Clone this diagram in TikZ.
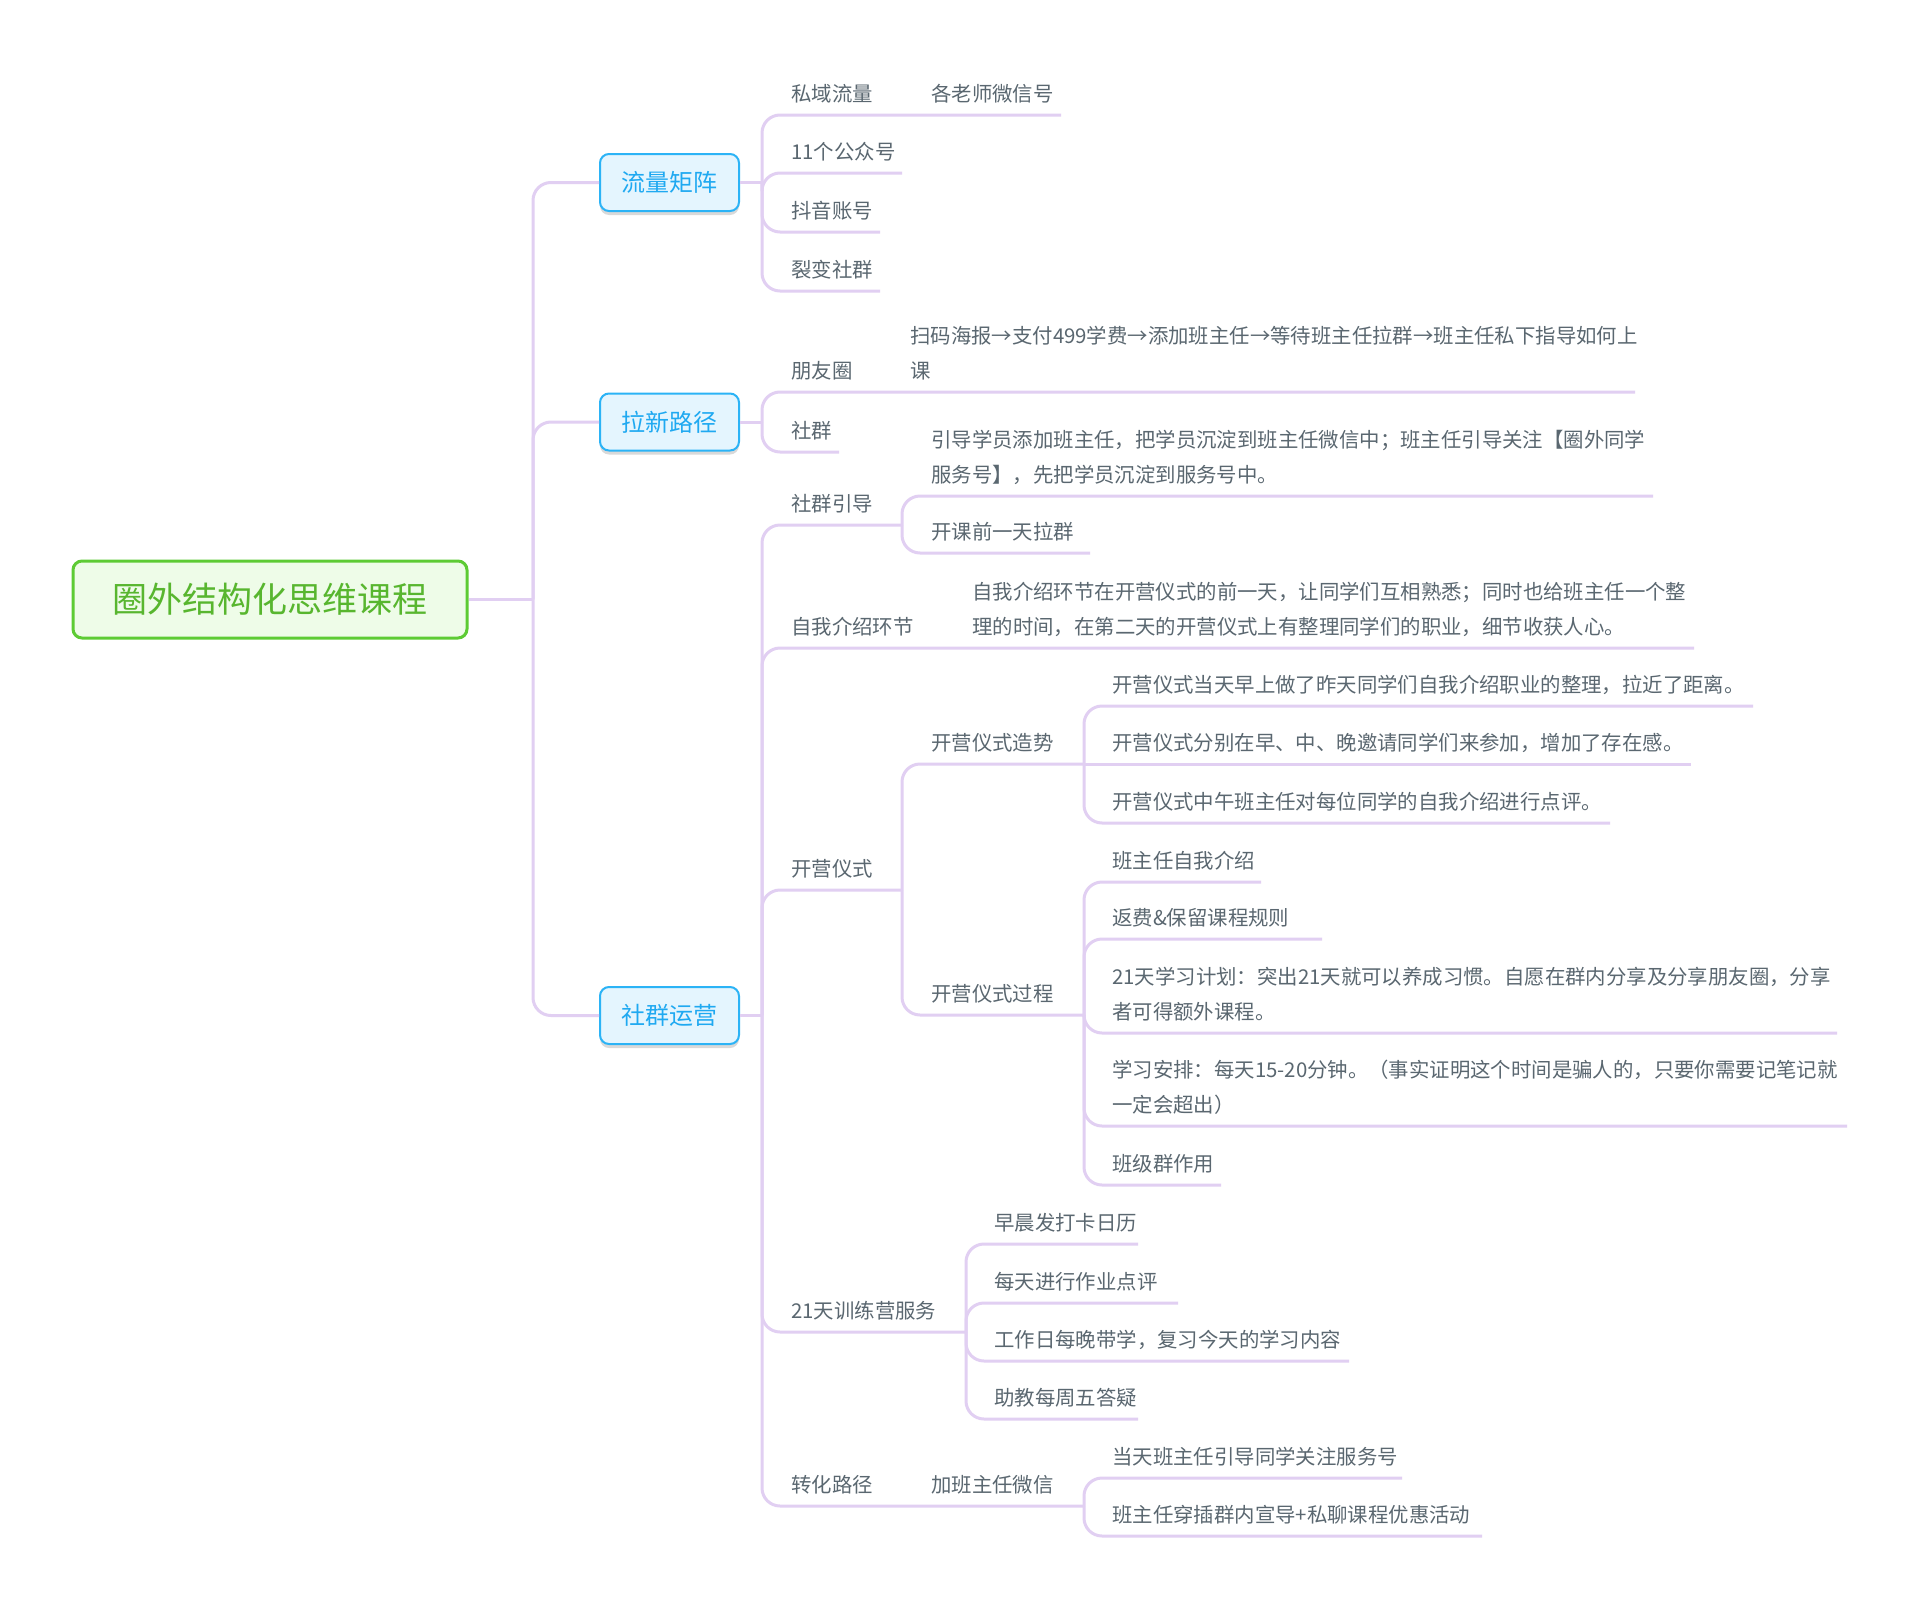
\documentclass[tikz,border=0pt]{standalone}
\usepackage{fontspec}
\setmainfont{Noto Sans CJK SC}
\usetikzlibrary{shadows}
\definecolor{linec}{HTML}{E1CFF2}
\definecolor{txtgrey}{HTML}{5A6770}
\definecolor{bluetxt}{HTML}{1FA9F1}
\definecolor{bluefill}{HTML}{E4F5FE}
\definecolor{blueline}{HTML}{2BB3F6}
\definecolor{greentxt}{HTML}{58B62F}
\definecolor{greenfill}{HTML}{EEFCE8}
\definecolor{greenline}{HTML}{5DCB34}
\newcommand{\twol}[2]{\vbox{\baselineskip=35pt\lineskiplimit=-100pt\hbox{#1}\hbox{#2}}}
\begin{document}
\begin{tikzpicture}[x=1pt,y=-1pt,
  txt/.style={anchor=base west, inner sep=0pt, yshift=1pt, text=txtgrey, font=\fontsize{20.4}{35}\selectfont},
  branch/.style={draw=linec, line width=3pt, rounded corners=18pt},
  rootbox/.style={draw=greenline, fill=greenfill, text=greentxt, line width=3pt, rounded corners=9pt,
    minimum width=394pt, minimum height=77pt, inner sep=0pt, font=\fontsize{35}{40}\selectfont},
  topicbox/.style={draw=blueline, fill=bluefill, text=bluetxt, line width=2pt, rounded corners=9pt,
    minimum width=139pt, minimum height=57pt, inner sep=0pt, font=\fontsize{24}{28}\selectfont,
    drop shadow={shadow xshift=0pt, shadow yshift=-4pt, opacity=0.15, fill=black}}
]
\useasboundingbox[fill=white] (0,0) rectangle (1920,1611);

% root and main topics
\node[rootbox] (root) at (270,599.5) {圈外结构化思维课程};
\node[topicbox] (llj) at (669.5,182.5) {流量矩阵};
\node[topicbox] (lxlj) at (669.5,422) {拉新路径};
\node[topicbox] (sqyy) at (669.5,1015.5) {社群运营};

\coordinate (trunk) at (533,599.5);
\draw[branch] (root.east) -- (trunk);
\draw[branch] (trunk) |- (llj.west);
\draw[branch] (trunk) |- (lxlj.west);
\draw[branch] (trunk) |- (sqyy.west);

% ---------- 流量矩阵
\coordinate (b1) at (762,182.5);
\draw[branch] (llj.east) -- (b1);
\node[txt] (syll) at (791,102) {私域流量};
\node[txt] (glsw) at (931,102) {各老师微信号};
\coordinate (glsw-e) at (1061,115);
\draw[branch] (b1) |- (glsw-e);
\node[txt] (gzh) at (791,160) {11个公众号};
\coordinate (gzh-e) at (902,173);
\draw[branch] (b1) |- (gzh-e);
\node[txt] (dy) at (791,219) {抖音账号};
\coordinate (dy-e) at (880,232);
\draw[branch] (b1) |- (dy-e);
\node[txt] (lb) at (791,278) {裂变社群};
\coordinate (lb-e) at (880,291);
\draw[branch] (b1) |- (lb-e);

% ---------- 拉新路径
\coordinate (b2) at (762,422);
\draw[branch] (lxlj.east) -- (b2);
\node[txt] (pyq) at (791,379) {朋友圈};
\node[txt] (smhb) at (910,379) {\twol{扫码海报→支付499学费→添加班主任→等待班主任拉群→班主任私下指导如何上}{课}};
\coordinate (smhb-e) at (1635,392);
\draw[branch] (b2) |- (smhb-e);
\node[txt] (sq) at (791,439) {社群};
\coordinate (sq-e) at (839,452);
\draw[branch] (b2) |- (sq-e);

% ---------- 社群运营
\coordinate (b3) at (762,1015.5);
\draw[branch] (sqyy.east) -- (b3);

% 社群引导
\node[txt] (sqyd) at (791,512) {社群引导};
\coordinate (sqyd-e) at (902,525);
\draw[branch] (b3) |- (sqyd-e);
\node[txt] (ydxy) at (931,483) {\twol{引导学员添加班主任，把学员沉淀到班主任微信中；班主任引导关注【圈外同学}{服务号】，先把学员沉淀到服务号中。}};
\coordinate (ydxy-e) at (1653,496);
\draw[branch] (sqyd-e) |- (ydxy-e);
\node[txt] (kkq) at (931,540) {开课前一天拉群};
\coordinate (kkq-e) at (1090,553);
\draw[branch] (sqyd-e) |- (kkq-e);

% 自我介绍环节
\node[txt] (zwjs) at (791,635) {自我介绍环节};
\node[txt] (zwjsc) at (972,635) {\twol{自我介绍环节在开营仪式的前一天，让同学们互相熟悉；同时也给班主任一个整}{理的时间，在第二天的开营仪式上有整理同学们的职业，细节收获人心。}};
\coordinate (zwjsc-e) at (1694,648);
\draw[branch] (b3) |- (zwjsc-e);

% 开营仪式
\node[txt] (kyys) at (791,877) {开营仪式};
\coordinate (kyys-e) at (902,890);
\draw[branch] (b3) |- (kyys-e);

\node[txt] (kyzs) at (931,751) {开营仪式造势};
\coordinate (kyzs-e) at (1084,764);
\draw[branch] (kyys-e) |- (kyzs-e);
\node[txt] (zs1) at (1112,693) {开营仪式当天早上做了昨天同学们自我介绍职业的整理，拉近了距离。};
\coordinate (zs1-e) at (1753,706);
\draw[branch] (kyzs-e) |- (zs1-e);
\node[txt] (zs2) at (1112,751) {开营仪式分别在早、中、晚邀请同学们来参加，增加了存在感。};
\coordinate (zs2-e) at (1691,764);
\draw[branch] (kyzs-e) -- (zs2-e);
\node[txt] (zs3) at (1112,810) {开营仪式中午班主任对每位同学的自我介绍进行点评。};
\coordinate (zs3-e) at (1610,823);
\draw[branch] (kyzs-e) |- (zs3-e);

\node[txt] (kygc) at (931,1002) {开营仪式过程};
\coordinate (kygc-e) at (1084,1015);
\draw[branch] (kyys-e) |- (kygc-e);
\node[txt] (gc1) at (1112,869) {班主任自我介绍};
\coordinate (gc1-e) at (1261,882);
\draw[branch] (kygc-e) |- (gc1-e);
\node[txt] (gc2) at (1112,926) {返费\&保留课程规则};
\coordinate (gc2-e) at (1322,939);
\draw[branch] (kygc-e) |- (gc2-e);
\node[txt] (gc3) at (1112,1020) {\twol{21天学习计划：突出21天就可以养成习惯。自愿在群内分享及分享朋友圈，分享}{者可得额外课程。}};
\coordinate (gc3-e) at (1837,1033);
\draw[branch] (kygc-e) |- (gc3-e);
\node[txt] (gc4) at (1112,1113) {\twol{学习安排：每天15-20分钟。（事实证明这个时间是骗人的，只要你需要记笔记就}{一定会超出）}};
\coordinate (gc4-e) at (1847,1126);
\draw[branch] (kygc-e) |- (gc4-e);
\node[txt] (gc5) at (1112,1172) {班级群作用};
\coordinate (gc5-e) at (1221,1185);
\draw[branch] (kygc-e) |- (gc5-e);

% 21天训练营服务
\node[txt] (xly) at (791,1319) {21天训练营服务};
\coordinate (xly-e) at (966,1332);
\draw[branch] (b3) |- (xly-e);
\node[txt] (xl1) at (994,1231) {早晨发打卡日历};
\coordinate (xl1-e) at (1138,1244);
\draw[branch] (xly-e) |- (xl1-e);
\node[txt] (xl2) at (994,1290) {每天进行作业点评};
\coordinate (xl2-e) at (1178,1303);
\draw[branch] (xly-e) |- (xl2-e);
\node[txt] (xl3) at (994,1348) {工作日每晚带学，复习今天的学习内容};
\coordinate (xl3-e) at (1349,1361);
\draw[branch] (xly-e) |- (xl3-e);
\node[txt] (xl4) at (994,1406) {助教每周五答疑};
\coordinate (xl4-e) at (1138,1419);
\draw[branch] (xly-e) |- (xl4-e);

% 转化路径
\node[txt] (zhlj) at (791,1493) {转化路径};
\node[txt] (jbzr) at (931,1493) {加班主任微信};
\coordinate (jbzr-e) at (1084,1506);
\draw[branch] (b3) |- (jbzr-e);
\node[txt] (zh1) at (1112,1465) {当天班主任引导同学关注服务号};
\coordinate (zh1-e) at (1402,1478);
\draw[branch] (jbzr-e) |- (zh1-e);
\node[txt] (zh2) at (1112,1523) {班主任穿插群内宣导+私聊课程优惠活动};
\coordinate (zh2-e) at (1482,1536);
\draw[branch] (jbzr-e) |- (zh2-e);
\end{tikzpicture}
\end{document}
